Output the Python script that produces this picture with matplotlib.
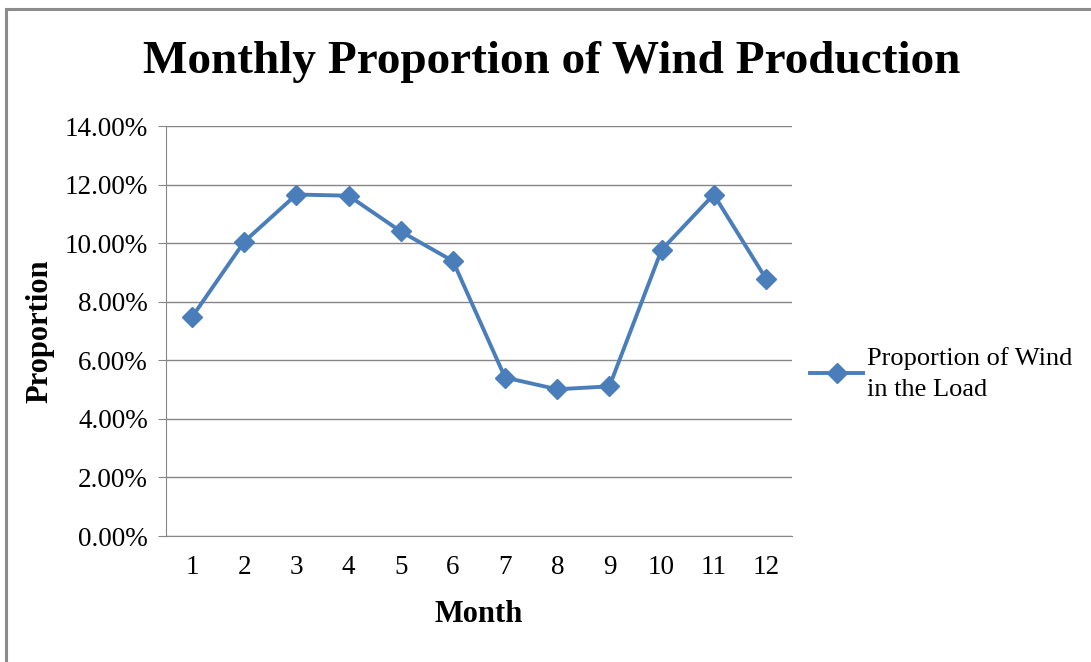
import matplotlib.pyplot as plt
from matplotlib.lines import Line2D
from matplotlib.ticker import FuncFormatter

months = [1, 2, 3, 4, 5, 6, 7, 8, 9, 10, 11, 12]
wind_share = [7.48, 10.05, 11.66, 11.62, 10.40, 9.39, 5.41, 5.01, 5.11, 9.77, 11.66, 8.79]
series_label = "Proportion of Wind\nin the Load"

plt.rcParams['font.family'] = ['Liberation Serif', 'DejaVu Serif']

W, H = 1091, 662
fig = plt.figure(figsize=(W / 100, H / 100), dpi=100)
ax = fig.add_axes([166 / W, 1 - 536 / H, (792 - 166) / W, (536 - 126) / H])

blue = '#4A7EBB'
ax.plot(months, wind_share, color=blue, lw=2.8, marker='D', markersize=10,
        label=series_label)

ax.set_xlim(0.5, 12.5)
ax.set_ylim(0, 14)
ax.set_yticks(range(0, 15, 2))
ax.set_xticks(months)
ax.yaxis.set_major_formatter(FuncFormatter(lambda v, p: "%.2f%%" % v))
ax.grid(axis='y', color='#868686', lw=1)
ax.set_axisbelow(True)

for s in ['top', 'right']:
    ax.spines[s].set_visible(False)
for s in ['left', 'bottom']:
    ax.spines[s].set_color('#868686')
ax.tick_params(axis='y', length=6, color='#868686', labelsize=19.5, pad=7)
ax.tick_params(axis='x', length=0, labelsize=19.5, pad=14)

ax.set_xlabel("Month", fontsize=22, fontweight='bold', labelpad=14)
ax.set_ylabel("Proportion", fontsize=22, fontweight='bold', labelpad=7)
fig.text(552 / W, 1 - 62 / H, "Monthly Proportion of Wind Production",
         ha='center', va='center', fontsize=34, fontweight='bold')

leg = ax.legend(loc='center left', bbox_to_anchor=(1.0, 0.395), frameon=False,
                fontsize=19, handlelength=2.0, handletextpad=0.15, borderaxespad=0.3)
for t in leg.get_texts():
    t.set_linespacing(1.55)

# chart frame (only top and left edges visible)
fig.add_artist(Line2D([6 / W, 6 / W], [0, 1 - 9 / H], color='#8c8c8c', lw=2.2,
                      transform=fig.transFigure))
fig.add_artist(Line2D([6 / W, 1], [1 - 9 / H, 1 - 9 / H], color='#8c8c8c', lw=2.2,
                      transform=fig.transFigure))

fig.savefig("out.png", dpi=100)
